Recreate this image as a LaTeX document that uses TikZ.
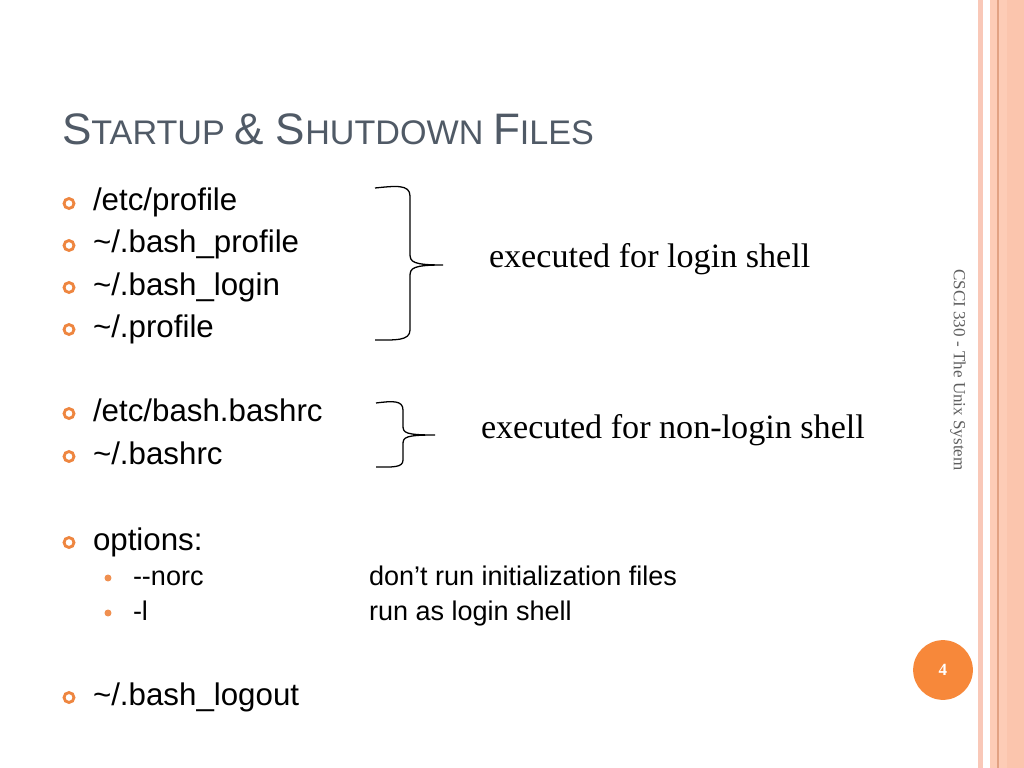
\documentclass[tikz,border=0pt]{standalone}
\usepackage{fontspec}
\setmainfont{Liberation Serif}
\newfontfamily\arial{Liberation Sans}
\definecolor{titlec}{HTML}{505A66}
\definecolor{bul}{HTML}{EE8640}
\definecolor{subbul}{HTML}{F09050}
\definecolor{pnum}{HTML}{F7883A}
\definecolor{stripeA}{HTML}{F9C8B8}
\definecolor{stripeB}{HTML}{FDCCB6}
\definecolor{stripeC}{HTML}{FBC5AD}
\definecolor{stripeL}{HTML}{E2A283}
\definecolor{sidec}{HTML}{5F5F5F}
\begin{document}
\begin{tikzpicture}[x=0.703125pt,y=-0.703125pt,
  txt/.style={anchor=base west,inner sep=0pt,outer sep=0pt},
  mainitem/.style={txt,font=\arial\fontsize{22}{26}\selectfont},
  subitem/.style={txt,font=\arial\fontsize{19}{23}\selectfont},
  serifnote/.style={txt,font=\fontsize{24}{29}\selectfont},
  hbullet/.style={circle,draw=bul,line width=2pt,minimum size=7pt,inner sep=0pt},
  fbullet/.style={circle,fill=subbul,minimum size=4.9pt,inner sep=0pt},
  bracec/.style={draw=black,line width=0.9pt}]
\useasboundingbox (0,0) rectangle (1024,768);
\fill[white] (0,0) rectangle (1024,768);
% right-hand stripes
\fill[stripeA] (978,0) rectangle (983,768);
\fill[stripeB] (990,0) rectangle (1024,768);
\fill[stripeC] (1007,0) rectangle (1024,768);
\draw[stripeL,line width=0.8pt] (998,0) -- (998,768);
% title
\node[txt,text=titlec,font=\arial] (title) at (62,145)
 {\fontsize{31}{37}\selectfont S\fontsize{24}{29}\selectfont TARTUP \fontsize{31}{37}\selectfont\&\ S\fontsize{24}{29}\selectfont HUTDOWN \fontsize{31}{37}\selectfont F\fontsize{24}{29}\selectfont ILES};
% main bullets
\node[hbullet] (b1) at (69,203.5) {};
\node[mainitem] (t1) at (93,211) {/etc/profile};
\node[hbullet] (b2) at (69,245.5) {};
\node[mainitem] (t2) at (93,253) {\textasciitilde/.bash\_profile};
\node[hbullet] (b3) at (69,287.5) {};
\node[mainitem] (t3) at (93,295) {\textasciitilde/.bash\_login};
\node[hbullet] (b4) at (69,329.5) {};
\node[mainitem] (t4) at (93,337) {\textasciitilde/.profile};
\node[hbullet] (b5) at (69,413.5) {};
\node[mainitem] (t5) at (93,421) {/etc/bash.bashrc};
\node[hbullet] (b6) at (69,456.5) {};
\node[mainitem] (t6) at (93,464) {\textasciitilde/.bashrc};
\node[hbullet] (b7) at (69,542.5) {};
\node[mainitem] (t7) at (93,550) {options:};
\node[fbullet] (s1) at (108,578) {};
\node[subitem] (u1) at (133,585) {-{}-norc};
\node[subitem] (v1) at (369,585) {don’t run initialization files};
\node[fbullet] (s2) at (108,613) {};
\node[subitem] (u2) at (133,620) {-l};
\node[subitem] (v2) at (369,620) {run as login shell};
\node[hbullet] (b8) at (69,697.5) {};
\node[mainitem] (t8) at (93,705) {\textasciitilde/.bash\_logout};
% braces
\draw[bracec] (375,188) .. controls (395,186) and (410,184) .. (410,196) -- (410,254)
  .. controls (410,262) and (413,265) .. (443,265)
  .. controls (413,265) and (410,268) .. (410,276) -- (410,330)
  .. controls (410,341) and (395,340) .. (375,340);
\draw[bracec] (376,403) .. controls (392,401) and (403,400) .. (403,410) -- (403,426)
  .. controls (403,433) and (406,435) .. (435,435)
  .. controls (406,435) and (403,437) .. (403,444) -- (403,460)
  .. controls (403,468) and (392,467) .. (376,467);
\node[serifnote] (n1) at (489,268) {executed for login shell};
\node[serifnote] (n2) at (481,438) {executed for non-login shell};
% side text and page number
\node[rotate=-90,text=sidec,font=\fontsize{12}{14}\selectfont,inner sep=0pt] (side) at (958,370) {CSCI 330 - The Unix System};
\node[circle,fill=pnum,minimum size=42pt,inner sep=0pt,text=white,font=\bfseries\fontsize{12}{14}\selectfont] (page) at (943,670) {4};
\end{tikzpicture}
\end{document}
